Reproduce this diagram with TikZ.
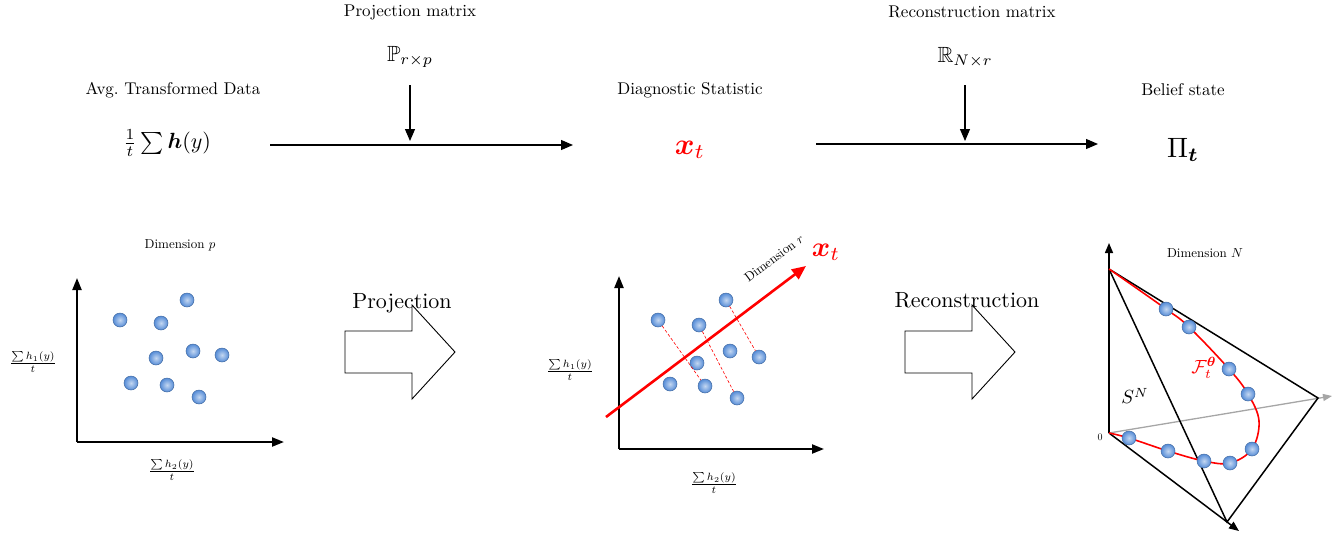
\documentclass[tikz,border=0pt]{standalone}
\usepackage{amsmath,amssymb,bm}
\usetikzlibrary{arrows.meta}
\definecolor{dotblue}{RGB}{85,140,215}
\tikzset{
  lbl/.style={scale=1.7, inner sep=0pt},
  big/.style={scale=2.2, inner sep=0pt},
  small/.style={scale=1.3, inner sep=0pt},
  axl/.style={scale=1.5, inner sep=0pt},
  flow/.style={-{Triangle[length=12pt,width=10pt]}, line width=1.2pt},
  axis/.style={-{Triangle[length=12pt,width=9pt]}, line width=2.2pt},
  dot/.style={circle, minimum size=14pt, inner sep=0pt, inner color=dotblue!35!white, outer color=dotblue, draw=dotblue!75!black, line width=0.5pt},
  hollow/.style={draw, line width=0.9pt, fill=white},
}
\begin{document}
\begin{tikzpicture}[x=1pt,y=-1pt]
\useasboundingbox (0,0) rectangle (1340,541);
% top row
\node[lbl] (pm) at (410,12) {Projection matrix};
\node[big] (P) at (410,57) {$\mathbb{P}_{r\times p}$};
\coordinate (pa) at (410,85); \coordinate (pb) at (410,141);
\draw[flow] (pa) -- (pb);
\node[lbl] (avg) at (173,90) {Avg.\ Transformed Data};
\node[big] (sum) at (167,143) {$\frac{1}{t}\sum \bm{h}(y)$};
\coordinate (h1a) at (270,145); \coordinate (h1b) at (573,145);
\draw[flow] (h1a) -- (h1b);
\node[lbl] (ds) at (690,90) {Diagnostic Statistic};
\node[scale=3, text=red, inner sep=0pt] (xt) at (690,150) {$\bm{x}_t$};
\node[lbl] (rm) at (972,12) {Reconstruction matrix};
\node[big] (R) at (965,57) {$\mathbb{R}_{N\times r}$};
\coordinate (ra) at (965,85); \coordinate (rb) at (965,141);
\draw[flow] (ra) -- (rb);
\coordinate (h2a) at (816,144); \coordinate (h2b) at (1098,144);
\draw[flow] (h2a) -- (h2b);
\node[lbl] (bs) at (1183,90) {Belief state};
\node[scale=2.8, inner sep=0pt] (pi) at (1183,150) {$\Pi_{\bm t}$};
% left plot
\coordinate (o1) at (77,442);
\coordinate (y1) at (77,278); \coordinate (x1) at (284,442);
\draw[axis] (o1) -- (y1);
\draw[axis] (o1) -- (x1);
\node[small] (dp) at (180,245) {Dimension $p$};
\node[axl] (yl1) at (33,362) {$\frac{\sum h_1(y)}{t}$};
\node[axl] (xl1) at (172,470) {$\frac{\sum h_2(y)}{t}$};
\foreach \x/\y [count=\i] in {120/320,187/300,161/323,156/358,193/351,222/355,131/383,167/385,199/397}
  \node[dot] (l\i) at (\x,\y) {};
% projection arrow
\node[big] (projt) at (402,303) {Projection};
\draw[hollow] (345,331) -- (412,331) -- (412,305) -- (455,352) -- (412,399) -- (412,373) -- (345,373) -- cycle;
% middle plot
\coordinate (o2) at (619,449);
\coordinate (y2) at (619,276); \coordinate (x2) at (824,449);
\draw[axis] (o2) -- (y2);
\draw[axis] (o2) -- (x2);
\node[axl] (yl2) at (570,370) {$\frac{\sum h_1(y)}{t}$};
\node[axl] (xl2) at (714,483) {$\frac{\sum h_2(y)}{t}$};
\foreach \x/\y [count=\i] in {658/320,699/325,726/300,730/351,759/357,697/363,670/384,705/386,737/398}
  \node[dot] (m\i) at (\x,\y) {};
\draw[red, line width=0.6pt, dash pattern=on 3pt off 2pt] (m1) -- (m8);
\draw[red, line width=0.6pt, dash pattern=on 3pt off 2pt] (m2) -- (m9);
\draw[red, line width=0.6pt, dash pattern=on 3pt off 2pt] (m3) -- (m5);
\coordinate (ra0) at (606,417); \coordinate (ra1) at (806,266);
\draw[red, line width=2.6pt, -{Triangle[length=14pt,width=12pt]}] (ra0) -- (ra1);
\node[scale=2.8, text=red, inner sep=0pt] (xt2) at (826,252) {$\bm{x}_t$};
\node[small, rotate=37] (dr) at (774,258) {Dimension $r$};
% reconstruction arrow
\node[big] (rect) at (967,300) {Reconstruction};
\draw[hollow] (905,331) -- (972,331) -- (972,305) -- (1015,352) -- (972,399) -- (972,373) -- (905,373) -- cycle;
% right plot
\coordinate (O) at (1109,433);
\coordinate (A) at (1109,269);
\coordinate (B) at (1318,398);
\coordinate (C) at (1227,522);
\coordinate (Ytop) at (1109,243);
\coordinate (Cend) at (1239,531);
\coordinate (G) at (1332,396);
\draw[gray!70, line width=1.3pt, -{Triangle[length=9pt,width=7pt]}] (O) -- (G);
\draw[line width=1.5pt, -{Triangle[length=10pt,width=8pt]}] (O) -- (Ytop);
\draw[line width=1.5pt, -{Triangle[length=10pt,width=8pt]}] (O) -- (Cend);
\draw[line width=1.5pt] (A) -- (B) -- (C) -- (A);
\draw[red, line width=1.6pt] plot[smooth, tension=0.6] coordinates {(1109,269) (1166,309) (1189,327) (1229,369) (1248,394) (1259,421) (1252,449) (1230,463) (1204,461) (1168,451) (1129,438) (1109,433)};
\foreach \x/\y [count=\i] in {1166/309,1189/327,1229/369,1248/394,1252/449,1230/463,1204/461,1168/451,1129/438}
  \node[dot] (r\i) at (\x,\y) {};
\node[small] (dn) at (1205,253) {Dimension $N$};
\node[scale=1.9, inner sep=0pt] (sn) at (1135,396) {$S^N$};
\node[scale=1.9, text=red, inner sep=0pt] (ft) at (1204,368) {$\mathcal{F}_t^{\bm\theta}$};
\node[inner sep=0pt] (zero) at (1100,437) {0};
\end{tikzpicture}
\end{document}
